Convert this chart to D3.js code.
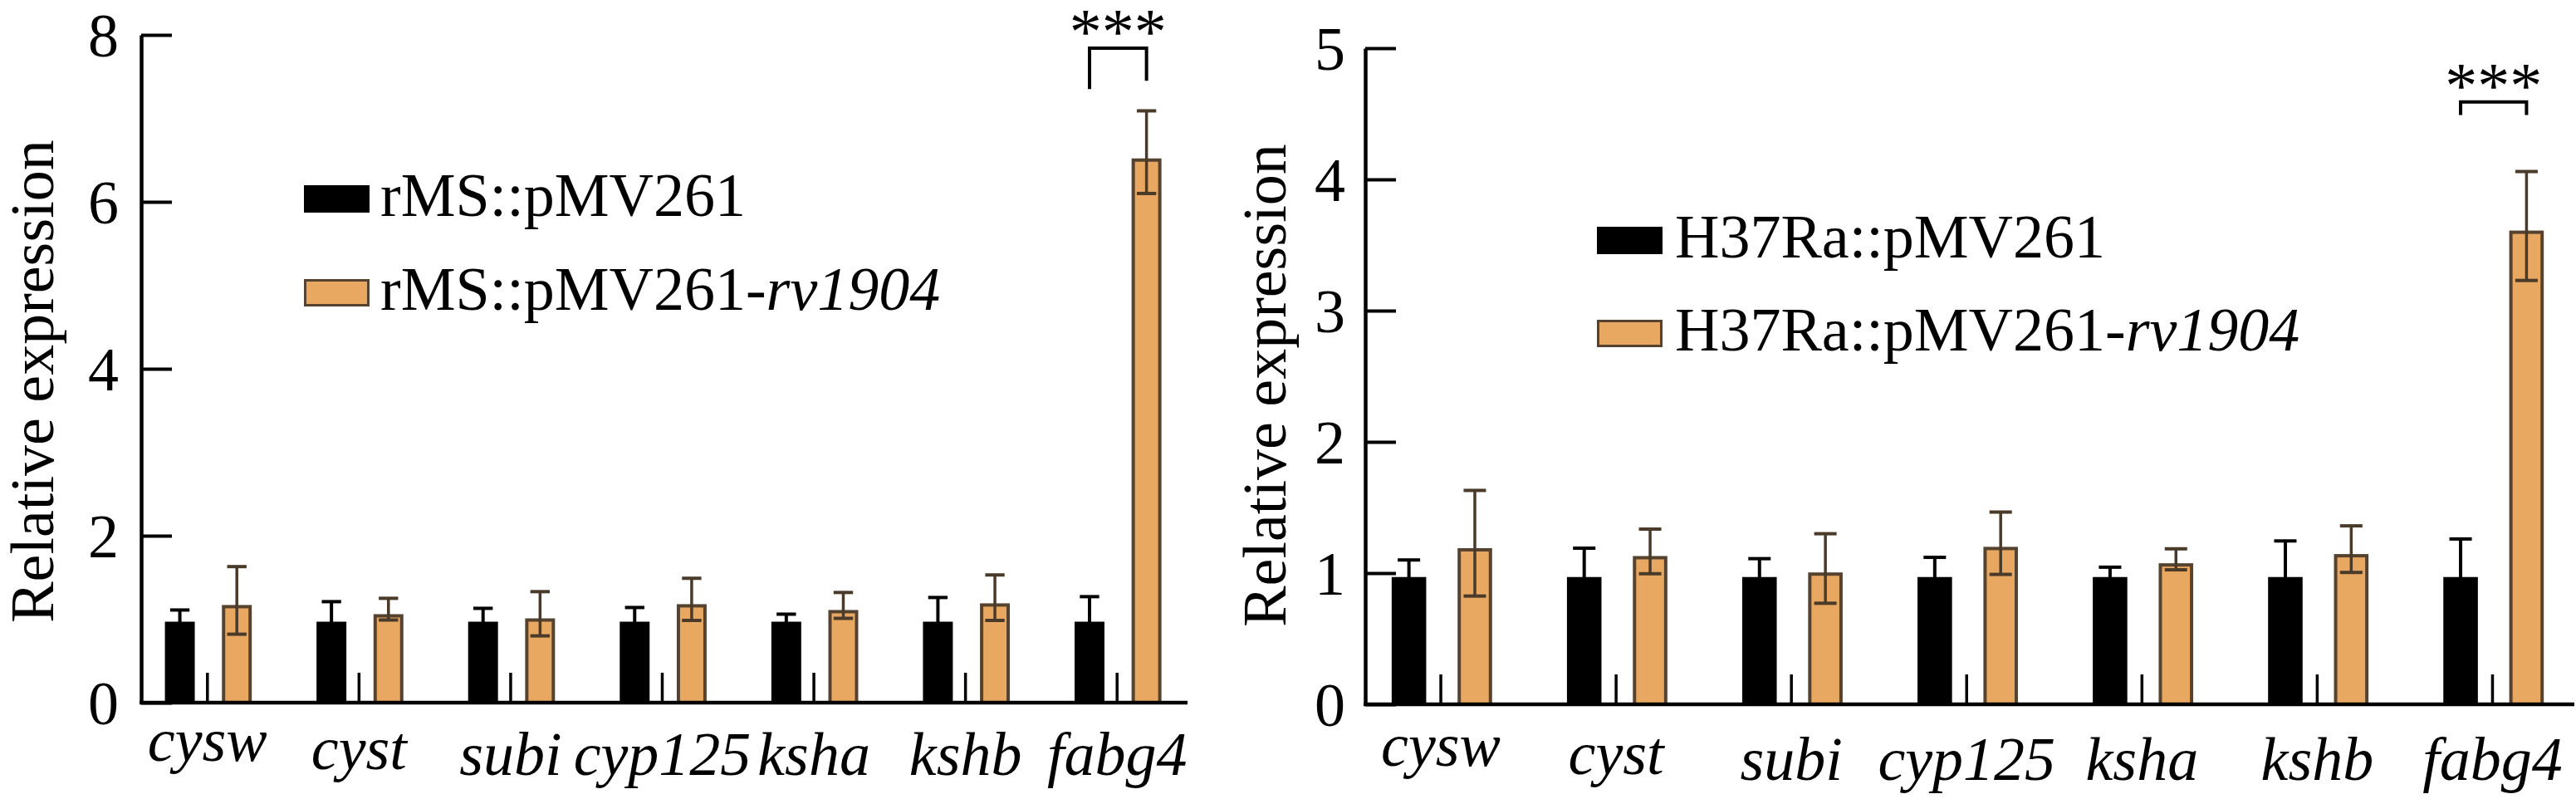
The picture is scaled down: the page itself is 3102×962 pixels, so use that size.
<!DOCTYPE html>
<html>
<head>
<meta charset="utf-8">
<script src="https://cdn.jsdelivr.net/npm/d3@7"></script>
<style>
  html, body { margin: 0; padding: 0; background: #fff; }
  svg { display: block; }
  text { font-family: "Liberation Serif", "Times New Roman", serif; fill: #000; }
</style>
</head>
<body>
<svg id="chart" width="3102" height="962"></svg>
<script>
// ---------- data ----------
const genes = ["cysw", "cyst", "subi", "cyp125", "ksha", "kshb", "fabg4"];

// Panel A: rMS
const msCtrlMean  = [0.97, 0.97, 0.97, 0.97, 0.97, 0.97, 0.97];
const msCtrlUpper = [1.11, 1.21, 1.13, 1.14, 1.06, 1.26, 1.27];
const msCtrlLower = [0.85, 0.76, 0.83, 0.82, 0.89, 0.74, 0.73];
const msOEMean    = [1.17, 1.06, 1.01, 1.18, 1.11, 1.19, 6.52];
const msOEUpper   = [1.63, 1.25, 1.33, 1.49, 1.32, 1.53, 7.09];
const msOELower   = [0.82, 0.99, 0.80, 0.985, 1.01, 0.985, 6.10];
const msTicks = [0, 2, 4, 6, 8];
const msLegend = [
  { plain: "rMS::pMV261", italic: "" },
  { plain: "rMS::pMV261-", italic: "rv1904" }
];
const msSig = { gene: "fabg4", label: "***", top: 7.84, legL: 7.35, legR: 7.45 };

// Panel B: H37Ra
const raCtrlMean  = [0.97, 0.97, 0.97, 0.97, 0.97, 0.97, 0.97];
const raCtrlUpper = [1.10, 1.19, 1.11, 1.12, 1.045, 1.245, 1.26];
const raCtrlLower = [0.86, 0.77, 0.85, 0.84, 0.90, 0.74, 0.73];
const raOEMean    = [1.19, 1.13, 1.005, 1.20, 1.075, 1.145, 3.61];
const raOEUpper   = [1.63, 1.335, 1.30, 1.465, 1.185, 1.36, 4.06];
const raOELower   = [0.825, 0.995, 0.77, 0.99, 1.025, 1.005, 3.23];
const raTicks = [0, 1, 2, 3, 4, 5];
const raLegend = [
  { plain: "H37Ra::pMV261", italic: "" },
  { plain: "H37Ra::pMV261-", italic: "rv1904" }
];
const raSig = { gene: "fabg4", label: "***", top: 4.59, legL: 4.49, legR: 4.49 };

const yTitle = "Relative expression";

// ---------- style ----------
const FS = 74;
const ORANGE = "#E8A862";
const BROWN = "#554330";
const ERR_BROWN = "#4A3A2A";
// small vertical nudges of the gene labels, as in the reference layout
const labelNudge = [-17, -7, 0, 0, 0, 0, 0];

const svg = d3.select("#chart");

function drawPanel(cfg) {
  const g = svg.append("g");
  const y = d3.scaleLinear().domain([0, cfg.ymax]).range([cfg.yBase, cfg.yTop]);
  const x = d3.scaleBand().domain(genes).range([cfg.bandStart, cfg.bandEnd]).padding(0);
  const s = x.step();
  const w = 0.197 * s;
  const capW = 0.128 * s;
  const center = d => x(d) + s / 2;
  const cBlack = d => center(d) - 0.182 * s;
  const cOrange = d => center(d) + 0.194 * s;

  const rows = genes.map((gname, i) => ({
    gene: gname,
    cm: cfg.ctrlMean[i], cu: cfg.ctrlUpper[i], cl: cfg.ctrlLower[i],
    om: cfg.oeMean[i], ou: cfg.oeUpper[i], ol: cfg.oeLower[i]
  }));

  // black bars
  g.selectAll(".bk").data(rows).join("rect")
    .attr("x", d => cBlack(d.gene) - w / 2)
    .attr("width", w)
    .attr("y", d => y(d.cm))
    .attr("height", d => cfg.yBase - y(d.cm))
    .attr("fill", "#000");

  // black error bars
  const eb = g.selectAll(".eb").data(rows).join("g");
  eb.append("line")
    .attr("x1", d => cBlack(d.gene)).attr("x2", d => cBlack(d.gene))
    .attr("y1", d => y(d.cl)).attr("y2", d => y(d.cu))
    .attr("stroke", "#000").attr("stroke-width", 4);
  eb.append("line")
    .attr("x1", d => cBlack(d.gene) - capW / 2).attr("x2", d => cBlack(d.gene) + capW / 2)
    .attr("y1", d => y(d.cu)).attr("y2", d => y(d.cu))
    .attr("stroke", "#000").attr("stroke-width", 4);

  // orange bars
  const sw = 4;
  g.selectAll(".or").data(rows).join("rect")
    .attr("x", d => cOrange(d.gene) - w / 2 + sw / 2)
    .attr("width", w - sw)
    .attr("y", d => y(d.om) + sw / 2)
    .attr("height", d => cfg.yBase - y(d.om) - sw / 2)
    .attr("fill", ORANGE)
    .attr("stroke", BROWN)
    .attr("stroke-width", sw);

  // orange error bars
  const eo = g.selectAll(".eo").data(rows).join("g");
  eo.append("line")
    .attr("x1", d => cOrange(d.gene)).attr("x2", d => cOrange(d.gene))
    .attr("y1", d => y(d.ol)).attr("y2", d => y(d.ou))
    .attr("stroke", ERR_BROWN).attr("stroke-width", 3.5);
  eo.append("line")
    .attr("x1", d => cOrange(d.gene) - capW / 2).attr("x2", d => cOrange(d.gene) + capW / 2)
    .attr("y1", d => y(d.ou)).attr("y2", d => y(d.ou))
    .attr("stroke", ERR_BROWN).attr("stroke-width", 4);
  eo.append("line")
    .attr("x1", d => cOrange(d.gene) - capW / 2).attr("x2", d => cOrange(d.gene) + capW / 2)
    .attr("y1", d => y(d.ol)).attr("y2", d => y(d.ol))
    .attr("stroke", ERR_BROWN).attr("stroke-width", 4);

  // x axis (small inward ticks + labels)
  const xAxis = d3.axisBottom(x).tickSizeInner(-36).tickSizeOuter(0).tickPadding(0);
  const gx = g.append("g").attr("transform", `translate(0,${cfg.yBase})`).call(xAxis);
  gx.select(".domain").remove();
  gx.selectAll(".tick line").attr("stroke", "#000").attr("stroke-width", 3.5);
  gx.selectAll(".tick text")
    .attr("y", (d, i) => cfg.labelDy + labelNudge[i]).attr("dy", 0)
    .style("font-size", FS + "px").style("font-style", "italic")
    .attr("fill", "#000");
  g.append("line")
    .attr("x1", cfg.axisX - 2).attr("x2", cfg.xEnd)
    .attr("y1", cfg.yBase).attr("y2", cfg.yBase)
    .attr("stroke", "#000").attr("stroke-width", 4.5);

  // y axis
  const yAxis = d3.axisLeft(y).tickValues(cfg.ticks).tickFormat(d3.format("d"))
    .tickSizeInner(-37).tickSizeOuter(0).tickPadding(cfg.tickPad);
  const gy = g.append("g").attr("transform", `translate(${cfg.axisX},0)`).call(yAxis);
  gy.select(".domain").attr("stroke", "#000").attr("stroke-width", 4.5);
  gy.selectAll(".tick line").attr("stroke", "#000").attr("stroke-width", 4);
  gy.selectAll(".tick text")
    .attr("dy", "0.34em")
    .style("font-size", FS + "px").attr("fill", "#000");

  // y title
  g.append("text")
    .attr("transform", `translate(${cfg.titleX},${cfg.titleY}) rotate(-90)`)
    .attr("text-anchor", "middle")
    .style("font-size", FS + "px")
    .text(yTitle);

  // legend
  const lg = g.append("g");
  cfg.legend.forEach((item, i) => {
    const by = cfg.legY[i];
    const r = lg.append("rect")
      .attr("x", cfg.legX + (i === 1 ? 1.5 : 0))
      .attr("y", by + (i === 1 ? 1.5 : 0))
      .attr("width", 79 - (i === 1 ? 3 : 0))
      .attr("height", 33 - (i === 1 ? 3 : 0))
      .attr("fill", i === 0 ? "#000" : ORANGE);
    if (i === 1) r.attr("stroke", BROWN).attr("stroke-width", 3);
    const t = lg.append("text")
      .attr("x", cfg.legX + 79 + cfg.legGap)
      .attr("y", by + 37)
      .style("font-size", FS + "px");
    t.append("tspan").text(item.plain);
    if (item.italic) t.append("tspan").style("font-style", "italic").text(item.italic);
  });

  // significance bracket
  const sg = cfg.sig;
  const xl = cBlack(sg.gene), xr = cOrange(sg.gene);
  g.append("path")
    .attr("d", `M${xl},${y(sg.legL)}V${y(sg.top)}H${xr}V${y(sg.legR)}`)
    .attr("fill", "none").attr("stroke", "#000").attr("stroke-width", 4);
  g.append("text")
    .attr("x", (xl + xr) / 2)
    .attr("y", y(sg.top) + 6)
    .attr("text-anchor", "middle")
    .style("font-size", "78px")
    .text(sg.label);
}

drawPanel({
  ymax: 8, ticks: msTicks, yBase: 846, yTop: 42,
  axisX: 170, xEnd: 1430, bandStart: 158.5, bandEnd: 1436.5,
  ctrlMean: msCtrlMean, ctrlUpper: msCtrlUpper, ctrlLower: msCtrlLower,
  oeMean: msOEMean, oeUpper: msOEUpper, oeLower: msOELower,
  labelDy: 87, tickPad: 27, titleX: 64, titleY: 459,
  legend: msLegend, legX: 366, legY: [223, 336], legGap: 13,
  sig: msSig
});

drawPanel({
  ymax: 5, ticks: raTicks, yBase: 848, yTop: 58,
  axisX: 1644, xEnd: 3100, bandStart: 1629.5, bandEnd: 3107,
  ctrlMean: raCtrlMean, ctrlUpper: raCtrlUpper, ctrlLower: raCtrlLower,
  oeMean: raOEMean, oeUpper: raOEUpper, oeLower: raOELower,
  labelDy: 91, tickPad: 24, titleX: 1548, titleY: 464,
  legend: raLegend, legX: 1923, legY: [273, 385], legGap: 15,
  sig: raSig
});
</script>
</body>
</html>
